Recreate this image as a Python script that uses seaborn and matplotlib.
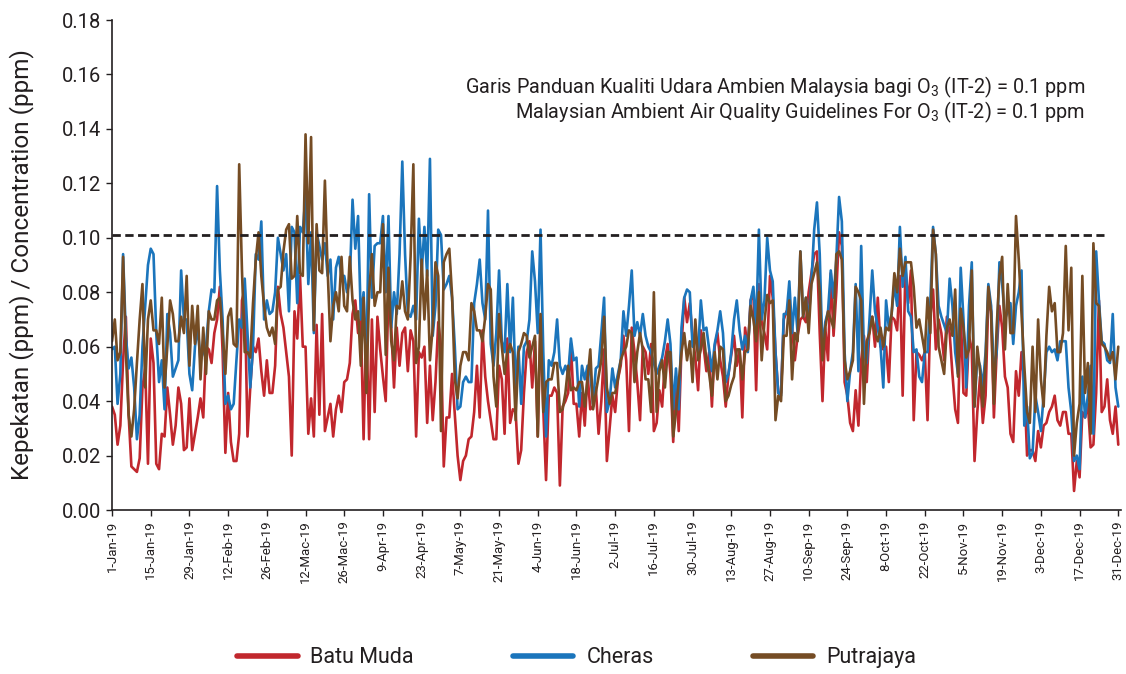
import numpy as np
import pandas as pd
import matplotlib
matplotlib.use("Agg")
import matplotlib.pyplot as plt
import seaborn as sns
from matplotlib.lines import Line2D
from matplotlib.ticker import FuncFormatter

# ---------------- data (daily max O3, ppm) ----------------
batu_muda = [
    0.038, 0.035, 0.024, 0.031, 0.055, 0.071, 0.035, 0.016, 0.015, 0.014,
    0.019, 0.045, 0.052, 0.017, 0.063, 0.054, 0.017, 0.015, 0.028, 0.027,
    0.045, 0.035, 0.024, 0.031, 0.045, 0.039, 0.022, 0.023, 0.041, 0.022,
    0.028, 0.034, 0.041, 0.034, 0.060, 0.059, 0.054, 0.065, 0.070, 0.082,
    0.058, 0.021, 0.043, 0.025, 0.018, 0.018, 0.028, 0.077, 0.081, 0.027,
    0.045, 0.060, 0.058, 0.063, 0.051, 0.042, 0.055, 0.043, 0.043, 0.053,
    0.082, 0.072, 0.067, 0.058, 0.049, 0.020, 0.073, 0.063, 0.086, 0.060,
    0.060, 0.028, 0.041, 0.027, 0.068, 0.035, 0.072, 0.029, 0.034, 0.039,
    0.027, 0.037, 0.042, 0.036, 0.047, 0.048, 0.054, 0.072, 0.077, 0.065,
    0.070, 0.026, 0.070, 0.026, 0.070, 0.036, 0.071, 0.059, 0.049, 0.040,
    0.080, 0.067, 0.045, 0.067, 0.053, 0.065, 0.067, 0.051, 0.066, 0.062,
    0.027, 0.058, 0.056, 0.060, 0.032, 0.053, 0.033, 0.047, 0.069, 0.060,
    0.016, 0.034, 0.034, 0.050, 0.035, 0.020, 0.011, 0.018, 0.020, 0.026,
    0.027, 0.036, 0.053, 0.034, 0.066, 0.049, 0.040, 0.033, 0.026, 0.026,
    0.053, 0.048, 0.028, 0.063, 0.032, 0.037, 0.036, 0.017, 0.022, 0.043,
    0.058, 0.062, 0.045, 0.062, 0.027, 0.070, 0.037, 0.011, 0.042, 0.042,
    0.045, 0.043, 0.009, 0.038, 0.040, 0.043, 0.061, 0.039, 0.039, 0.027,
    0.043, 0.031, 0.050, 0.037, 0.038, 0.045, 0.028, 0.040, 0.059, 0.018,
    0.030, 0.042, 0.036, 0.048, 0.053, 0.064, 0.055, 0.029, 0.067, 0.058,
    0.047, 0.033, 0.060, 0.058, 0.050, 0.061, 0.029, 0.032, 0.044, 0.038,
    0.055, 0.061, 0.050, 0.025, 0.049, 0.029, 0.060, 0.078, 0.069, 0.076,
    0.064, 0.056, 0.044, 0.066, 0.060, 0.051, 0.058, 0.038, 0.060, 0.065,
    0.055, 0.049, 0.038, 0.050, 0.057, 0.064, 0.053, 0.059, 0.034, 0.067,
    0.059, 0.077, 0.080, 0.044, 0.083, 0.069, 0.065, 0.059, 0.086, 0.078,
    0.058, 0.043, 0.043, 0.070, 0.073, 0.071, 0.067, 0.055, 0.064, 0.070,
    0.071, 0.069, 0.080, 0.087, 0.094, 0.095, 0.065, 0.040, 0.067, 0.055,
    0.087, 0.064, 0.080, 0.102, 0.097, 0.047, 0.042, 0.032, 0.029, 0.044,
    0.031, 0.055, 0.064, 0.047, 0.067, 0.071, 0.060, 0.078, 0.060, 0.059,
    0.060, 0.047, 0.071, 0.070, 0.066, 0.086, 0.042, 0.089, 0.076, 0.088,
    0.033, 0.058, 0.057, 0.055, 0.058, 0.033, 0.071, 0.081, 0.059, 0.070,
    0.065, 0.055, 0.071, 0.065, 0.050, 0.037, 0.032, 0.073, 0.043, 0.042,
    0.064, 0.059, 0.018, 0.036, 0.049, 0.032, 0.042, 0.078, 0.073, 0.034,
    0.058, 0.075, 0.067, 0.049, 0.045, 0.028, 0.025, 0.051, 0.042, 0.058,
    0.047, 0.020, 0.022, 0.022, 0.018, 0.029, 0.023, 0.031, 0.032, 0.036,
    0.038, 0.042, 0.033, 0.031, 0.036, 0.036, 0.028, 0.028, 0.007, 0.018,
    0.012, 0.036, 0.034, 0.039, 0.023, 0.024, 0.043, 0.077, 0.036, 0.038,
    0.048, 0.033, 0.028, 0.038, 0.024,
]

cheras = [
    0.059, 0.060, 0.039, 0.050, 0.094, 0.064, 0.052, 0.056, 0.045, 0.026,
    0.035, 0.060, 0.075, 0.090, 0.096, 0.094, 0.065, 0.047, 0.055, 0.037,
    0.072, 0.065, 0.049, 0.052, 0.055, 0.088, 0.070, 0.070, 0.050, 0.044,
    0.060, 0.067, 0.055, 0.058, 0.060, 0.073, 0.081, 0.080, 0.119, 0.088,
    0.070, 0.039, 0.042, 0.037, 0.039, 0.055, 0.070, 0.067, 0.085, 0.065,
    0.045, 0.060, 0.094, 0.092, 0.106, 0.070, 0.077, 0.072, 0.073, 0.080,
    0.100, 0.094, 0.088, 0.094, 0.073, 0.104, 0.102, 0.076, 0.104, 0.102,
    0.116, 0.083, 0.102, 0.065, 0.102, 0.097, 0.092, 0.098, 0.086, 0.092,
    0.070, 0.089, 0.093, 0.086, 0.086, 0.080, 0.084, 0.114, 0.096, 0.108,
    0.070, 0.080, 0.051, 0.116, 0.078, 0.097, 0.098, 0.098, 0.108, 0.080,
    0.108, 0.067, 0.080, 0.072, 0.094, 0.128, 0.094, 0.072, 0.071, 0.075,
    0.070, 0.107, 0.087, 0.104, 0.086, 0.129, 0.064, 0.075, 0.103, 0.101,
    0.081, 0.083, 0.086, 0.078, 0.060, 0.037, 0.038, 0.047, 0.049, 0.047,
    0.047, 0.076, 0.083, 0.092, 0.076, 0.070, 0.110, 0.061, 0.053, 0.065,
    0.088, 0.062, 0.058, 0.083, 0.058, 0.078, 0.045, 0.060, 0.039, 0.060,
    0.062, 0.070, 0.095, 0.084, 0.065, 0.103, 0.058, 0.027, 0.055, 0.053,
    0.058, 0.070, 0.053, 0.050, 0.053, 0.050, 0.063, 0.055, 0.056, 0.038,
    0.053, 0.048, 0.053, 0.050, 0.039, 0.052, 0.053, 0.065, 0.078, 0.036,
    0.040, 0.052, 0.045, 0.050, 0.055, 0.073, 0.064, 0.075, 0.088, 0.064,
    0.069, 0.064, 0.072, 0.064, 0.060, 0.058, 0.054, 0.050, 0.053, 0.056,
    0.062, 0.070, 0.061, 0.037, 0.052, 0.037, 0.067, 0.078, 0.081, 0.080,
    0.060, 0.065, 0.058, 0.077, 0.066, 0.067, 0.059, 0.051, 0.061, 0.066,
    0.073, 0.065, 0.047, 0.050, 0.058, 0.070, 0.077, 0.066, 0.059, 0.064,
    0.058, 0.077, 0.082, 0.067, 0.103, 0.070, 0.077, 0.100, 0.088, 0.084,
    0.058, 0.043, 0.042, 0.072, 0.072, 0.084, 0.065, 0.078, 0.065, 0.095,
    0.071, 0.078, 0.070, 0.084, 0.103, 0.113, 0.094, 0.058, 0.069, 0.073,
    0.088, 0.078, 0.092, 0.115, 0.106, 0.058, 0.040, 0.051, 0.058, 0.083,
    0.051, 0.097, 0.058, 0.054, 0.070, 0.088, 0.073, 0.067, 0.060, 0.045,
    0.077, 0.067, 0.072, 0.083, 0.075, 0.104, 0.082, 0.093, 0.073, 0.071,
    0.058, 0.059, 0.049, 0.047, 0.058, 0.058, 0.076, 0.104, 0.094, 0.075,
    0.071, 0.068, 0.065, 0.085, 0.075, 0.058, 0.050, 0.089, 0.070, 0.045,
    0.075, 0.091, 0.038, 0.056, 0.053, 0.045, 0.058, 0.083, 0.075, 0.050,
    0.058, 0.091, 0.083, 0.070, 0.073, 0.076, 0.061, 0.075, 0.080, 0.088,
    0.031, 0.038, 0.019, 0.021, 0.042, 0.036, 0.029, 0.042, 0.058, 0.060,
    0.058, 0.059, 0.055, 0.062, 0.062, 0.062, 0.045, 0.036, 0.018, 0.020,
    0.015, 0.049, 0.034, 0.042, 0.053, 0.028, 0.095, 0.077, 0.062, 0.061,
    0.055, 0.054, 0.072, 0.045, 0.038,
]

putrajaya = [
    0.062, 0.070, 0.055, 0.058, 0.093, 0.058, 0.035, 0.027, 0.037, 0.054,
    0.070, 0.083, 0.045, 0.070, 0.077, 0.066, 0.066, 0.061, 0.078, 0.045,
    0.060, 0.077, 0.072, 0.062, 0.062, 0.071, 0.065, 0.086, 0.053, 0.075,
    0.061, 0.075, 0.048, 0.067, 0.050, 0.073, 0.070, 0.070, 0.077, 0.078,
    0.065, 0.050, 0.071, 0.074, 0.061, 0.060, 0.127, 0.088, 0.058, 0.058,
    0.056, 0.076, 0.092, 0.102, 0.086, 0.075, 0.067, 0.064, 0.067, 0.061,
    0.081, 0.082, 0.095, 0.103, 0.105, 0.085, 0.086, 0.108, 0.087, 0.086,
    0.138, 0.098, 0.137, 0.066, 0.105, 0.088, 0.087, 0.121, 0.088, 0.062,
    0.075, 0.080, 0.073, 0.093, 0.075, 0.073, 0.093, 0.077, 0.070, 0.073,
    0.053, 0.078, 0.043, 0.080, 0.094, 0.075, 0.080, 0.080, 0.105, 0.057,
    0.089, 0.062, 0.055, 0.075, 0.074, 0.084, 0.073, 0.070, 0.093, 0.127,
    0.054, 0.060, 0.092, 0.070, 0.088, 0.055, 0.067, 0.091, 0.086, 0.029,
    0.091, 0.094, 0.096, 0.079, 0.048, 0.041, 0.053, 0.058, 0.058, 0.055,
    0.076, 0.073, 0.066, 0.066, 0.062, 0.071, 0.083, 0.081, 0.049, 0.038,
    0.072, 0.060, 0.050, 0.058, 0.061, 0.058, 0.033, 0.058, 0.061, 0.065,
    0.064, 0.056, 0.060, 0.064, 0.027, 0.072, 0.036, 0.047, 0.048, 0.048,
    0.054, 0.054, 0.036, 0.037, 0.043, 0.053, 0.044, 0.045, 0.044, 0.047,
    0.047, 0.038, 0.048, 0.059, 0.037, 0.043, 0.049, 0.055, 0.071, 0.045,
    0.039, 0.043, 0.043, 0.048, 0.055, 0.058, 0.060, 0.066, 0.065, 0.047,
    0.058, 0.065, 0.059, 0.048, 0.048, 0.036, 0.080, 0.036, 0.051, 0.055,
    0.045, 0.058, 0.058, 0.027, 0.036, 0.047, 0.058, 0.065, 0.055, 0.062,
    0.047, 0.070, 0.055, 0.059, 0.065, 0.055, 0.050, 0.042, 0.058, 0.048,
    0.060, 0.059, 0.040, 0.042, 0.046, 0.049, 0.059, 0.059, 0.048, 0.058,
    0.059, 0.075, 0.070, 0.062, 0.080, 0.055, 0.069, 0.079, 0.076, 0.077,
    0.033, 0.042, 0.040, 0.064, 0.064, 0.077, 0.048, 0.065, 0.062, 0.095,
    0.071, 0.078, 0.065, 0.083, 0.087, 0.091, 0.080, 0.055, 0.067, 0.073,
    0.070, 0.067, 0.094, 0.095, 0.092, 0.055, 0.048, 0.051, 0.055, 0.082,
    0.080, 0.077, 0.039, 0.062, 0.065, 0.071, 0.065, 0.062, 0.067, 0.060,
    0.067, 0.066, 0.072, 0.087, 0.080, 0.096, 0.086, 0.091, 0.091, 0.091,
    0.082, 0.067, 0.070, 0.064, 0.058, 0.078, 0.065, 0.103, 0.094, 0.060,
    0.055, 0.050, 0.067, 0.070, 0.064, 0.081, 0.049, 0.074, 0.067, 0.056,
    0.059, 0.088, 0.038, 0.060, 0.051, 0.038, 0.055, 0.082, 0.072, 0.039,
    0.067, 0.086, 0.093, 0.059, 0.083, 0.065, 0.065, 0.108, 0.092, 0.072,
    0.053, 0.036, 0.032, 0.060, 0.036, 0.070, 0.048, 0.038, 0.064, 0.082,
    0.073, 0.076, 0.058, 0.058, 0.065, 0.097, 0.066, 0.089, 0.020, 0.032,
    0.039, 0.086, 0.043, 0.054, 0.028, 0.098, 0.076, 0.075, 0.061, 0.060,
    0.058, 0.055, 0.058, 0.048, 0.060,
]

stations = ["Batu Muda", "Cheras", "Putrajaya"]
station_colors = ["#C1272D", "#1B75BC", "#754C24"]
guideline_value = 0.101
guideline_end = "2019-12-26"
tick_labels = ["1-Jan-19", "15-Jan-19", "29-Jan-19", "12-Feb-19", "26-Feb-19",
               "12-Mac-19", "26-Mac-19", "9-Apr-19", "23-Apr-19", "7-May-19",
               "21-May-19", "4-Jun-19", "18-Jun-19", "2-Jul-19", "16-Jul-19",
               "30-Jul-19", "13-Aug-19", "27-Aug-19", "10-Sep-19", "24-Sep-19",
               "8-Oct-19", "22-Oct-19", "5-Nov-19", "19-Nov-19", "3-Dec-19",
               "17-Dec-19", "31-Dec-19"]
y_ticks = [0.00, 0.02, 0.04, 0.06, 0.08, 0.10, 0.12, 0.14, 0.16, 0.18]
note_lines = ["Garis Panduan Kualiti Udara Ambien Malaysia bagi O$_\\mathregular{3}$ (IT-2) = 0.1 ppm",
              "Malaysian Ambient Air Quality Guidelines For O$_\\mathregular{3}$ (IT-2) = 0.1 ppm"]

frames = []
for name, vals in zip(stations, [batu_muda, cheras, putrajaya]):
    frames.append(pd.DataFrame({
        "date": pd.date_range("2019-01-01", periods=len(vals), freq="D"),
        "value": vals,
        "station": name,
    }))
df = pd.concat(frames, ignore_index=True)

# ---------------- style ----------------
sns.set_theme(style="ticks")
plt.rcParams["font.family"] = ["Roboto", "DejaVu Sans"]
plt.rcParams["mathtext.fontset"] = "custom"
plt.rcParams["mathtext.rm"] = "Roboto"
plt.rcParams["mathtext.it"] = "Roboto:italic"
plt.rcParams["text.color"] = "#231F20"

fig = plt.figure(figsize=(11.26, 6.74), dpi=100)
ax = fig.add_axes([0.0995, 0.2433, 0.8961, 0.727])

sns.lineplot(data=df, x="date", y="value", hue="station", hue_order=stations,
             palette=station_colors, linewidth=1.9, ax=ax, legend=False)

ax.plot(pd.to_datetime(["2019-01-01", guideline_end]), [guideline_value] * 2,
        color="#231F20", lw=2.0, ls=(0, (3, 1.6)), zorder=5)

ax.set_ylim(y_ticks[0], y_ticks[-1])
ax.set_yticks(y_ticks)
ax.yaxis.set_major_formatter(FuncFormatter(lambda v, p: f"{v:.2f}"))
ax.set_xlim(pd.Timestamp("2019-01-01"), pd.Timestamp("2020-01-01"))
ax.set_xticks(pd.date_range("2019-01-01", periods=len(tick_labels), freq="14D"))
ax.set_xticklabels(tick_labels, rotation=90, fontsize=9.5, color="#231F20")
ax.tick_params(axis="y", labelsize=14.5, colors="#231F20", length=4, width=1)
ax.tick_params(axis="x", length=4, width=1, colors="#231F20")
ax.set_xlabel("")
ax.set_ylabel("Kepekatan (ppm) / Concentration (ppm)", fontsize=17.5, color="#231F20")
ax.yaxis.set_label_coords(-0.077, 0.5)
for s in ["top", "right"]:
    ax.spines[s].set_visible(False)
for s in ["left", "bottom"]:
    ax.spines[s].set_color("#231F20")
    ax.spines[s].set_linewidth(1.2)

fig.text(0.9636, 0.871, note_lines[0], ha="right", va="center", fontsize=14.3)
fig.text(0.9636, 0.834, note_lines[1], ha="right", va="center", fontsize=14.3)

handles = [Line2D([0], [0], color=c, lw=4) for c in station_colors]
fig.legend(handles, stations, loc="center", bbox_to_anchor=(0.512, 0.024), ncol=3,
           frameon=False, fontsize=15.5, handlelength=2.8, columnspacing=4.6,
           handletextpad=0.6)

fig.savefig("out.png", dpi=100)
